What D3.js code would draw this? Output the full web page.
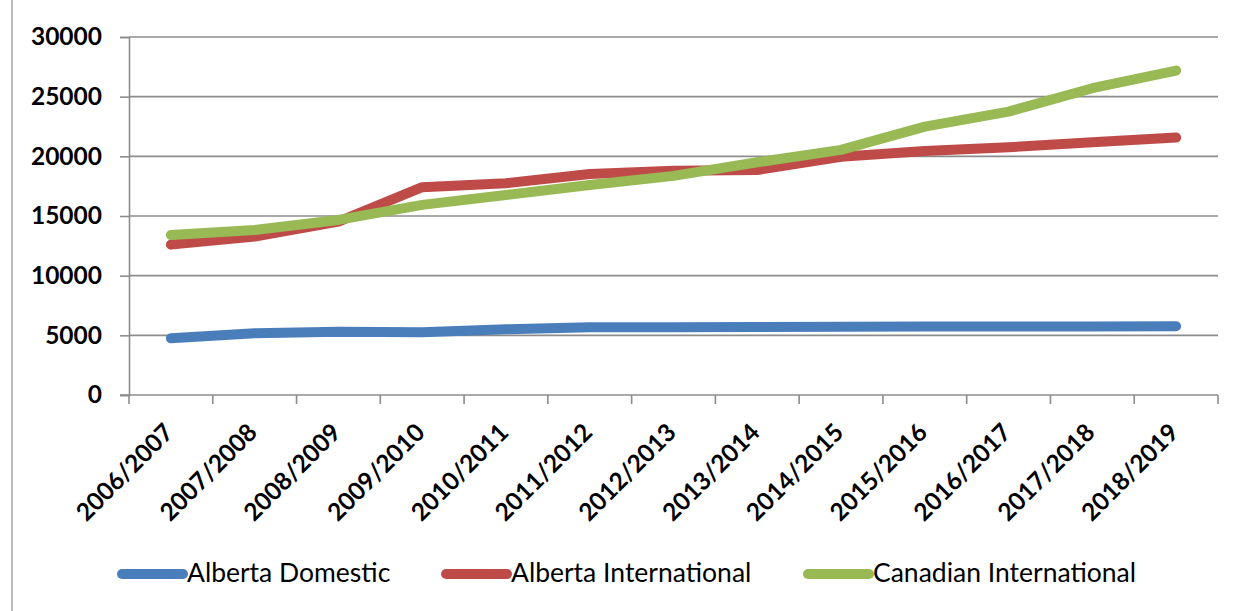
<!DOCTYPE html>
<html>
<head>
<meta charset="utf-8">
<script src="https://cdn.jsdelivr.net/npm/d3@7"></script>
<style>
  html, body { margin: 0; padding: 0; background: #fff; }
  svg { display: block; }
</style>
</head>
<body>
<svg id="chart" width="1237" height="611"></svg>
<script>
// Academic years on the category axis
const years = ["2006/2007", "2007/2008", "2008/2009", "2009/2010", "2010/2011", "2011/2012",
  "2012/2013", "2013/2014", "2014/2015", "2015/2016", "2016/2017", "2017/2018", "2018/2019"];

// Tuition per series
const albertaDomestic = [4750, 5170, 5300, 5250, 5500, 5670, 5670, 5700, 5720, 5740, 5750, 5750, 5760];
const albertaInternational = [12600, 13270, 14530, 17410, 17750, 18520, 18800, 18850, 19970, 20450, 20760, 21180, 21570];
const canadianInternational = [13410, 13830, 14670, 15930, 16760, 17600, 18360, 19500, 20540, 22490, 23750, 25710, 27190];

const seriesNames = ["Alberta Domestic", "Alberta International", "Canadian International"];
const yTicks = [0, 5000, 10000, 15000, 20000, 25000, 30000];

const series = [
  { name: seriesNames[0], values: albertaDomestic, color: "#4a7ebb" },
  { name: seriesNames[1], values: albertaInternational, color: "#be4b48" },
  { name: seriesNames[2], values: canadianInternational, color: "#98b954" }
];

const svg = d3.select("#chart");
const plot = { left: 129, right: 1218, top: 37, bottom: 395 };
const gridColor = "#8c8c8c";

// outer frame edge on the left
svg.append("line")
  .attr("x1", 12).attr("x2", 12).attr("y1", 0).attr("y2", 611)
  .attr("stroke", "#a6a6a6").attr("stroke-width", 1.5);

const x = d3.scaleBand().domain(years).range([plot.left, plot.right]).padding(0);
const y = d3.scaleLinear().domain([0, 30000]).range([plot.bottom, plot.top]);

// horizontal gridlines
svg.append("g").selectAll("line")
  .data(yTicks.filter(d => d > 0))
  .join("line")
  .attr("x1", plot.left).attr("x2", plot.right)
  .attr("y1", d => y(d)).attr("y2", d => y(d))
  .attr("stroke", gridColor).attr("stroke-width", 1.6);

// value axis
const yAxis = svg.append("g")
  .attr("transform", `translate(${plot.left},0)`)
  .call(d3.axisLeft(y).tickValues(yTicks).tickSize(9).tickPadding(18).tickFormat(d3.format("d")));
yAxis.select(".domain").attr("stroke", gridColor).attr("stroke-width", 1.6);
yAxis.selectAll(".tick line").attr("stroke", gridColor).attr("stroke-width", 1.6);
yAxis.selectAll(".tick text")
  .attr("font-family", "Lato, 'Open Sans', sans-serif")
  .attr("font-weight", "bold")
  .attr("font-size", 24.5)
  .attr("fill", "#000");

// category axis line with boundary tick marks
const xAxisG = svg.append("g");
xAxisG.append("line")
  .attr("x1", plot.left - 9).attr("x2", plot.right)
  .attr("y1", plot.bottom).attr("y2", plot.bottom)
  .attr("stroke", gridColor).attr("stroke-width", 1.6);
const boundaries = years.map(d => x(d)).concat([plot.right]);
xAxisG.selectAll("line.tick")
  .data(boundaries)
  .join("line")
  .attr("class", "tick")
  .attr("x1", d => d).attr("x2", d => d)
  .attr("y1", plot.bottom).attr("y2", plot.bottom + 9)
  .attr("stroke", gridColor).attr("stroke-width", 1.6);

// rotated category labels
xAxisG.selectAll("text")
  .data(years)
  .join("text")
  .attr("transform", d => `translate(${x(d) + x.bandwidth() / 2 + 4},${plot.bottom + 39}) rotate(-45)`)
  .attr("text-anchor", "end")
  .attr("font-family", "Lato, 'Open Sans', sans-serif")
  .attr("font-weight", "bold")
  .attr("font-size", 24.5)
  .attr("fill", "#000")
  .text(d => d);

// series lines
const line = d3.line()
  .x((d, i) => x(years[i]) + x.bandwidth() / 2)
  .y(d => y(d));

svg.append("g").selectAll("path")
  .data(series)
  .join("path")
  .attr("d", d => line(d.values))
  .attr("fill", "none")
  .attr("stroke", d => d.color)
  .attr("stroke-width", 10)
  .attr("stroke-linecap", "round")
  .attr("stroke-linejoin", "round");

// legend
const legendX = [122, 446, 808];
const legendY = 574;
const legend = svg.append("g").selectAll("g")
  .data(series)
  .join("g")
  .attr("transform", (d, i) => `translate(${legendX[i]},${legendY})`);
legend.append("line")
  .attr("x1", 0).attr("x2", 61).attr("y1", 0).attr("y2", 0)
  .attr("stroke", d => d.color).attr("stroke-width", 10)
  .attr("stroke-linecap", "round");
legend.append("text")
  .attr("x", 65).attr("y", 8)
  .attr("font-family", "Lato, 'Open Sans', sans-serif")
  .attr("font-size", 26.5)
  .attr("fill", "#000")
  .text(d => d.name);
</script>
</body>
</html>
